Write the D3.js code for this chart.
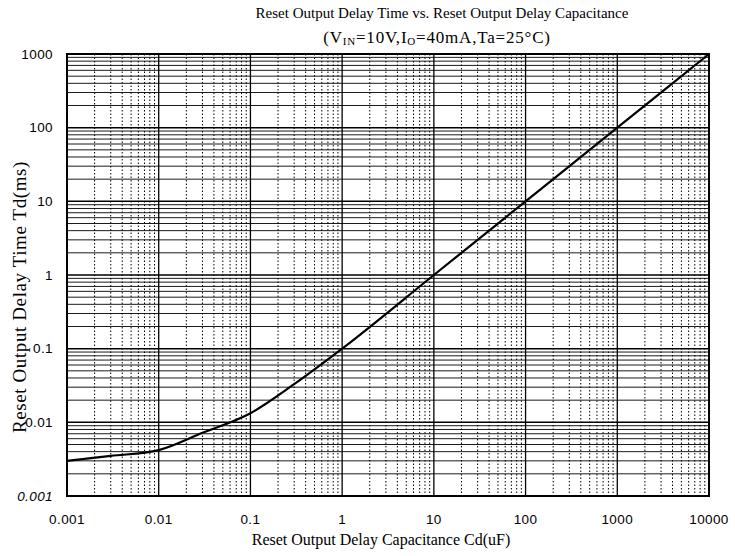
<!DOCTYPE html>
<html>
<head>
<meta charset="utf-8">
<script src="https://cdn.jsdelivr.net/npm/d3@7"></script>
<style>
    body { margin: 0; background: #fff; }
    svg { display: block; }
    .title { font-family: "Liberation Serif", "Times New Roman", serif; font-size: 15px; fill: #000; }
    .subtitle { font-family: "Liberation Serif", "Times New Roman", serif; font-size: 17px; letter-spacing: 0.8px; fill: #000; }
    .axis-title { font-family: "Liberation Serif", "Times New Roman", serif; font-size: 16px; fill: #000; }
    .y-title { font-family: "Liberation Serif", "Times New Roman", serif; font-size: 19px; letter-spacing: 0.6px; fill: #000; }
    .tick-label { font-family: "Liberation Sans", Arial, sans-serif; font-size: 13.5px; letter-spacing: 0.4px; fill: #000; }
</style>
</head>
<body>
<div id="chart"></div>
<script>
// Curve (Cd in uF, Td in ms)
const capacitance = [0.001, 0.003, 0.01, 0.03, 0.1, 0.3, 1, 10, 100, 1000, 10000];
const delayTime = [0.003, 0.0035, 0.0042, 0.0072, 0.0133, 0.033, 0.1, 1, 10, 100, 1000];

// Tick labels
const xTicks = [0.001, 0.01, 0.1, 1, 10, 100, 1000, 10000];
const yTicks = [0.001, 0.01, 0.1, 1, 10, 100, 1000];

// Chart dimensions
const margin = {top: 54, right: 26, bottom: 60, left: 67};
const totalWidth = 735, totalHeight = 556;
const width = totalWidth - margin.left - margin.right;
const height = totalHeight - margin.top - margin.bottom;

const svg = d3.select('#chart')
    .append('svg')
    .attr('width', totalWidth)
    .attr('height', totalHeight);

const g = svg.append('g')
    .attr('transform', `translate(${margin.left},${margin.top})`);

// Scales
const xScale = d3.scaleLog()
    .domain([0.001, 10000])
    .range([0, width]);

const yScale = d3.scaleLog()
    .domain([0.001, 1000])
    .range([height, 0]);

// Minor values: 2..9 within each decade
function minorValues(domain) {
    const out = [];
    for (let e = Math.log10(domain[0]); e < Math.log10(domain[1]); e++) {
        for (let m = 2; m <= 9; m++) out.push(m * Math.pow(10, e));
    }
    return out;
}

// Vertical minor grid (dotted)
g.append('g')
    .selectAll('line')
    .data(minorValues(xScale.domain()))
    .enter().append('line')
    .attr('x1', d => xScale(d))
    .attr('x2', d => xScale(d))
    .attr('y1', 0)
    .attr('y2', height)
    .style('stroke', '#000')
    .style('stroke-width', 1)
    .style('stroke-dasharray', '1.5,2');

// Horizontal minor grid (solid)
g.append('g')
    .selectAll('line')
    .data(minorValues(yScale.domain()))
    .enter().append('line')
    .attr('x1', 0)
    .attr('x2', width)
    .attr('y1', d => yScale(d))
    .attr('y2', d => yScale(d))
    .style('stroke', '#000')
    .style('stroke-width', 0.9);

// Major grid
g.append('g')
    .selectAll('line')
    .data(xTicks)
    .enter().append('line')
    .attr('x1', d => xScale(d))
    .attr('x2', d => xScale(d))
    .attr('y1', 0)
    .attr('y2', height)
    .style('stroke', '#000')
    .style('stroke-width', 1.3);

g.append('g')
    .selectAll('line')
    .data(yTicks)
    .enter().append('line')
    .attr('x1', 0)
    .attr('x2', width)
    .attr('y1', d => yScale(d))
    .attr('y2', d => yScale(d))
    .style('stroke', '#000')
    .style('stroke-width', 1.5);

// Frame
g.append('rect')
    .attr('width', width)
    .attr('height', height)
    .style('fill', 'none')
    .style('stroke', '#000')
    .style('stroke-width', 2);

// Curve
const line = d3.line()
    .x((d, i) => xScale(capacitance[i]))
    .y(d => yScale(d))
    .curve(d3.curveMonotoneX);

g.append('path')
    .datum(delayTime)
    .attr('d', line)
    .style('fill', 'none')
    .style('stroke', '#000')
    .style('stroke-width', 2.2);

// Tick labels
const fmt = d => String(d);

g.append('g')
    .selectAll('text')
    .data(xTicks)
    .enter().append('text')
    .attr('class', 'tick-label')
    .attr('x', d => xScale(d))
    .attr('y', height + 28)
    .style('text-anchor', 'middle')
    .text(fmt);

g.append('g')
    .selectAll('text')
    .data(yTicks)
    .enter().append('text')
    .attr('class', 'tick-label')
    .attr('x', -14)
    .attr('y', d => yScale(d))
    .attr('dy', '0.35em')
    .style('text-anchor', 'end')
    .style('font-style', d => d === 0.001 ? 'italic' : 'normal')
    .text(fmt);

// Titles
svg.append('text')
    .attr('class', 'title')
    .attr('x', 442)
    .attr('y', 18)
    .style('text-anchor', 'middle')
    .text('Reset Output Delay Time vs. Reset Output Delay Capacitance');

const sub = svg.append('text')
    .attr('class', 'subtitle')
    .attr('x', 437)
    .attr('y', 43)
    .style('text-anchor', 'middle');
sub.append('tspan').text('(V');
sub.append('tspan').attr('font-size', '11px').attr('dy', 2).text('IN');
sub.append('tspan').attr('dy', -2).text('=10V,I');
sub.append('tspan').attr('font-size', '11px').attr('dy', 2).text('O');
sub.append('tspan').attr('dy', -2).text('=40mA,Ta=25°C)');

// Axis titles
svg.append('text')
    .attr('class', 'axis-title')
    .attr('x', 381)
    .attr('y', 545)
    .style('text-anchor', 'middle')
    .text('Reset Output Delay Capacitance Cd(uF)');

svg.append('text')
    .attr('class', 'y-title')
    .attr('transform', `translate(26, 297) rotate(-90)`)
    .style('text-anchor', 'middle')
    .text('Reset Output Delay Time Td(ms)');
</script>
</body>
</html>
